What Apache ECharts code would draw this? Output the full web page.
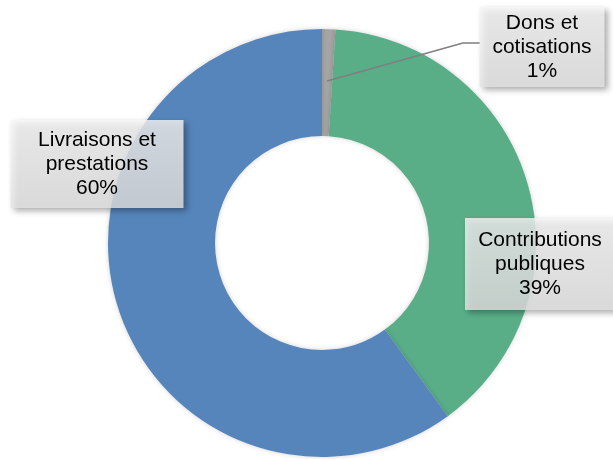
<!DOCTYPE html>
<html>
<head>
<meta charset="utf-8">
<script src="https://cdn.jsdelivr.net/npm/echarts@6/dist/echarts.min.js"></script>
<style>
html,body{margin:0;padding:0;background:#fff;}
#c{width:613px;height:459px;}
</style>
</head>
<body>
<div id="c"></div>
<script>
// order: clockwise starting at 12 o'clock
var categories = ['Dons et\ncotisations', 'Contributions\npubliques', 'Livraisons et\nprestations'];
var values = [1, 39, 60];
var colors = ['#A5A5A5', '#59AE88', '#5585BB'];

// label box placement (center) and size
var labelCenters = [[542, 47], [540, 264], [97, 164]];
var labelWidths = [125, 150, 173];
var labelPads = [[4, 0], [10, 0], [8, 0]];

var chart = echarts.init(document.getElementById('c'));

var boxBg = {
  type: 'linear', x: 0, y: 0, x2: 0, y2: 1,
  colorStops: [
    {offset: 0, color: 'rgba(246,246,246,0.8)'},
    {offset: 1, color: 'rgba(228,228,228,0.8)'}
  ]
};

var baseData = categories.map(function (name, i) {
  return {name: name, value: values[i], itemStyle: {color: colors[i]}};
});

var labelData = categories.map(function (name, i) {
  return {
    name: name,
    value: values[i],
    label: {width: labelWidths[i], padding: labelPads[i]},
    labelLine: {show: i === 0}
  };
});

var common = {
  type: 'pie',
  center: [322, 243],
  radius: [107, 214],
  startAngle: 90,
  clockwise: true,
  avoidLabelOverlap: false,
  emphasis: {disabled: true}
};

chart.setOption({
  animation: false,
  series: [
    Object.assign({}, common, {
      z: 2,
      data: baseData,
      itemStyle: {shadowBlur: 5, shadowColor: 'rgba(0,0,0,0.18)'},
      label: {show: false},
      labelLine: {show: false}
    }),
    Object.assign({}, common, {
      z: 3,
      silent: true,
      data: labelData,
      itemStyle: {color: 'rgba(0,0,0,0)'},
      label: {
        show: true,
        position: 'outside',
        formatter: '{b}\n{d}%',
        fontFamily: '"Liberation Sans", Arial, sans-serif',
        fontSize: 21,
        lineHeight: 24,
        color: '#000',
        align: 'center',
        backgroundColor: boxBg,
        shadowColor: 'rgba(0,0,0,0.4)',
        shadowBlur: 6,
        shadowOffsetX: 3,
        shadowOffsetY: 3
      },
      labelLine: {
        show: false,
        lineStyle: {color: '#7F7F7F', width: 1.5}
      },
      labelLayout: function (params) {
        var i = params.dataIndex;
        var res = {
          x: labelCenters[i][0],
          y: labelCenters[i][1],
          align: 'center',
          verticalAlign: 'middle'
        };
        if (i === 0) {
          res.labelLinePoints = [[327, 81], [463, 43], [480, 43]];
        }
        return res;
      }
    })
  ]
});
</script>
</body>
</html>
